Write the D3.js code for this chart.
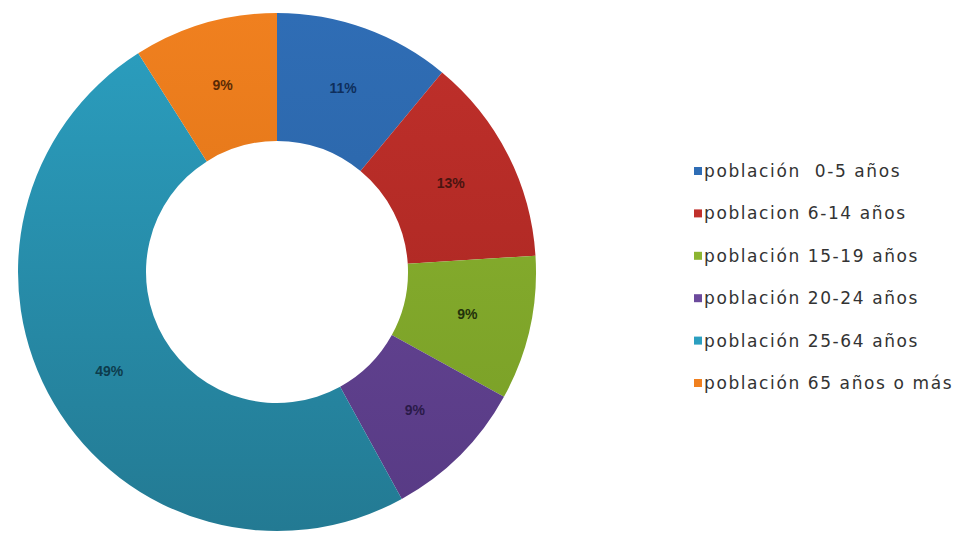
<!DOCTYPE html>
<html>
<head>
<meta charset="utf-8">
<script src="https://cdn.jsdelivr.net/npm/d3@7"></script>
<style>
    body { margin: 0; background: #fff; }
    svg { display: block; }
    .legend text { font-family: "DejaVu Sans", sans-serif; font-size: 17px; letter-spacing: 1.6px; fill: #333; }
    .label { font-family: "Liberation Sans", Arial, sans-serif; font-size: 14px; font-weight: bold; }
</style>
</head>
<body>
<div id="chart"></div>
<script>
const categories = [
    'población  0-5 años',
    'poblacion 6-14 años',
    'población 15-19 años',
    'población 20-24 años',
    'población 25-64 años',
    'población 65 años o más'
];
const values = [11, 13, 9, 9, 49, 9];
const colors = ['#2f6db5', '#c0302b', '#8cb531', '#6c4a9c', '#2b9fc0', '#f0801f'];
const darkColors = ['#285f9c', '#a3241f', '#779c25', '#573a84', '#237a93', '#d46c12'];
const labelColors = ['#0f2f5c', '#4a1410', '#23320a', '#2a1a48', '#0d3c4c', '#5a2a05'];

const width = 974, height = 537;
const cx = 277, cy = 272;
const outerR = 259, innerR = 131;

const svg = d3.select('#chart').append('svg')
    .attr('width', width)
    .attr('height', height);

// vertical shading per slice, lighter on top
const defs = svg.append('defs');
colors.forEach((c, i) => {
    const g = defs.append('linearGradient')
        .attr('id', 'grad' + i)
        .attr('gradientUnits', 'userSpaceOnUse')
        .attr('x1', 0).attr('y1', -outerR)
        .attr('x2', 0).attr('y2', outerR);
    g.append('stop').attr('offset', '0%').attr('stop-color', c);
    g.append('stop').attr('offset', '100%').attr('stop-color', darkColors[i]);
});

const pie = d3.pie().sort(null).value(d => d);
const arc = d3.arc().innerRadius(innerR).outerRadius(outerR);

const slices = svg.append('g')
    .attr('transform', `translate(${cx}, ${cy})`);

slices.selectAll('path')
    .data(pie(values)).enter()
    .append('path')
    .attr('d', arc)
    .attr('fill', (d, i) => `url(#grad${i})`);

slices.selectAll('.label')
    .data(pie(values)).enter()
    .append('text')
    .attr('class', 'label')
    .attr('transform', d => `translate(${arc.centroid(d)})`)
    .attr('text-anchor', 'middle')
    .attr('dy', '0.35em')
    .style('fill', (d, i) => labelColors[i])
    .text(d => d.data + '%');

const legendY = d3.scalePoint()
    .domain(categories)
    .range([171, 383]);

const legend = svg.append('g').attr('class', 'legend');

const item = legend.selectAll('g')
    .data(categories).enter()
    .append('g')
    .attr('transform', d => `translate(694, ${legendY(d)})`);

item.append('rect')
    .attr('x', 0)
    .attr('y', -4)
    .attr('width', 8)
    .attr('height', 8)
    .attr('fill', (d, i) => colors[i]);

item.append('text')
    .attr('x', 10)
    .attr('dy', '0.35em')
    .attr('xml:space', 'preserve')
    .style('white-space', 'pre')
    .text(d => d);
</script>
</body>
</html>
